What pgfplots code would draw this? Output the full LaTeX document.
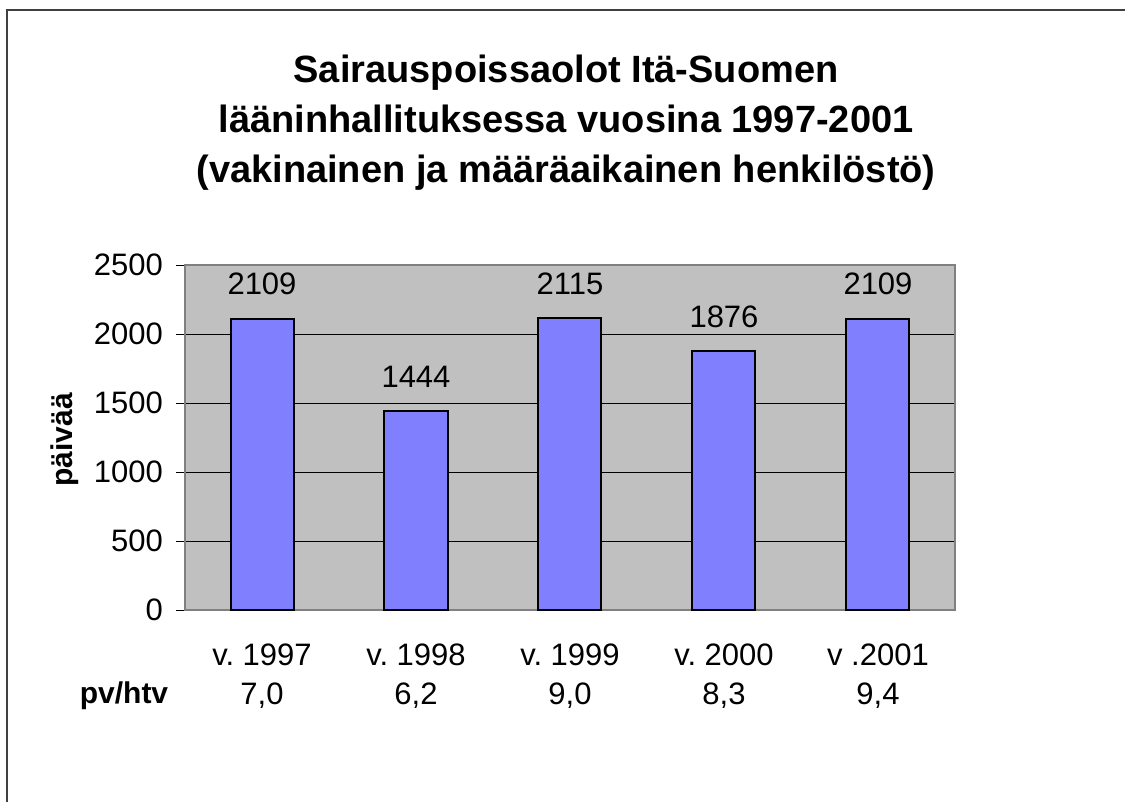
\documentclass[border=0pt]{standalone}
\usepackage{pgfplots}
\pgfplotsset{compat=1.18}
\usepackage{fontspec}
\setmainfont{Liberation Sans}
\definecolor{plotgray}{HTML}{C0C0C0}
\definecolor{barblue}{HTML}{8080FF}
\definecolor{bordergray}{HTML}{808080}
\begin{document}
\frenchspacing
\begin{tikzpicture}
\path[use as bounding box] (0,0) rectangle (562.5pt,401pt);
\draw[line width=1pt, color=black!75] (3.5pt,-2pt) -- (3.5pt,396pt) -- (565pt,396pt);
\node[font=\bfseries\fontsize{19}{25}\selectfont, align=center] at (283pt,339.5pt)
  {Sairauspoissaolot Itä-Suomen\\lääninhallituksessa vuosina 1997-2001\\(vakinainen ja määräaikainen henkilöstö)};
\node[font=\bfseries\fontsize{15}{18}\selectfont, rotate=90] at (32.5pt,181pt) {päivää};
\node[font=\bfseries\fontsize{15}{18}\selectfont] at (62pt,53pt) {pv/htv};
\begin{axis}[
  at={(92.5pt,96pt)}, anchor=south west,
  scale only axis, width=385pt, height=172.5pt,
  xmin=-0.5, xmax=4.5, ymin=0, ymax=2500,
  ytick={0,500,...,2500},
  xtick={0,1,2,3,4},
  xticklabels={{v. 1997\\7,0},{v. 1998\\6,2},{v. 1999\\9,0},{v. 2000\\8,3},{v .2001\\9,4}},
  minor xtick={-0.5,0.5,1.5,2.5,3.5,4.5},
  tick align=outside, tick pos=left,
  xtick style={draw=none},
  minor tick style={draw=black, thin},
  minor tick length=5pt,
  ytick style={draw=black, thin},
  major tick length=4.5pt,
  axis background/.style={fill=plotgray},
  axis line style={draw=bordergray, line width=0.8pt},
  ymajorgrids, grid style={black, thin},
  ticklabel style={font=\fontsize{15.5}{19.5}\selectfont},
  xticklabel style={align=center, yshift=-9pt},
  yticklabel style={xshift=-3pt},
  /pgf/number format/assume math mode=true,
  /pgf/number format/1000 sep={},
  ybar, bar width=31.5pt,
  nodes near coords,
  nodes near coords style={font=\fontsize{15.5}{18}\selectfont, yshift=8pt, /pgf/number format/assume math mode=true},
  clip=false,
]
\addplot[fill=barblue, draw=black, line width=1pt] coordinates {(0,2109) (1,1444) (2,2115) (3,1876) (4,2109)};
\end{axis}
\end{tikzpicture}
\end{document}
